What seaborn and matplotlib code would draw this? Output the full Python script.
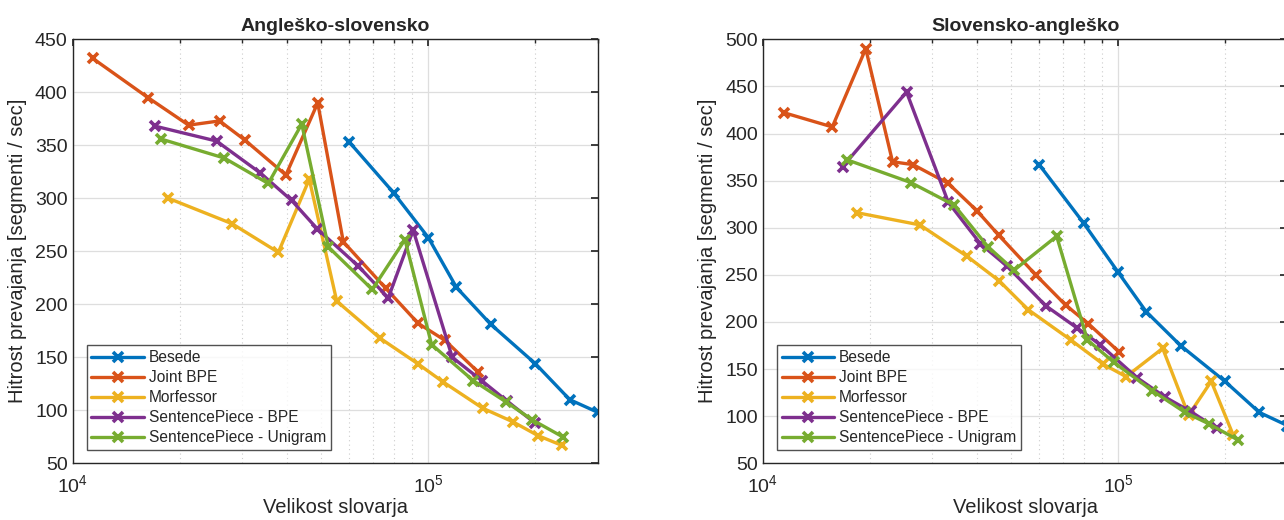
import matplotlib

matplotlib.use("Agg")

import matplotlib.pyplot as plt
import pandas as pd
import seaborn as sns
from matplotlib.ticker import LogLocator, MultipleLocator, NullFormatter

# ---- data ----
series_names = [
    "Besede",
    "Joint BPE",
    "Morfessor",
    "SentencePiece - BPE",
    "SentencePiece - Unigram",
]
colors = ["#0072BD", "#D95319", "#EDB120", "#7E2F8E", "#77AC30"]

# Angleško-slovensko
en_sl_besede_x = [6.0e4, 8.0e4, 1.0e5, 1.2e5, 1.5e5, 2.0e5, 2.5e5, 3.0e5]
en_sl_besede_y = [353, 305, 263, 216, 181, 144, 110, 98]
en_sl_joint_x = [1.14e4, 1.63e4, 2.12e4, 2.59e4, 3.05e4, 3.98e4, 4.89e4, 5.77e4, 7.6e4, 9.37e4, 1.114e5, 1.382e5]
en_sl_joint_y = [432, 395, 369, 373, 355, 322, 390, 259, 215, 182, 166, 136]
en_sl_morf_x = [1.86e4, 2.81e4, 3.79e4, 4.63e4, 5.53e4, 7.32e4, 9.34e4, 1.098e5, 1.422e5, 1.733e5, 2.038e5, 2.371e5]
en_sl_morf_y = [300, 276, 249, 318, 203, 168, 144, 127, 102, 89, 76, 67]
en_sl_spbpe_x = [1.71e4, 2.54e4, 3.37e4, 4.13e4, 4.88e4, 6.36e4, 7.72e4, 9.07e4, 1.168e5, 1.413e5, 1.661e5, 1.995e5]
en_sl_spbpe_y = [368, 354, 324, 298, 271, 236, 206, 270, 150, 128, 109, 88]
en_sl_spuni_x = [1.77e4, 2.67e4, 3.55e4, 4.41e4, 5.24e4, 6.96e4, 8.6e4, 1.022e5, 1.338e5, 1.653e5, 1.96e5, 2.386e5]
en_sl_spuni_y = [356, 338, 314, 370, 254, 214, 261, 162, 128, 108, 91, 75]

# Slovensko-angleško
sl_en_besede_x = [6.0e4, 8.0e4, 1.0e5, 1.2e5, 1.5e5, 2.0e5, 2.5e5, 3.0e5]
sl_en_besede_y = [367, 305, 253, 211, 175, 137, 104, 90]
sl_en_joint_x = [1.15e4, 1.57e4, 1.95e4, 2.32e4, 2.65e4, 3.33e4, 4.01e4, 4.62e4, 5.87e4, 7.12e4, 8.26e4, 1.009e5]
sl_en_joint_y = [422, 407, 490, 370, 367, 347, 318, 292, 250, 218, 198, 168]
sl_en_morf_x = [1.84e4, 2.77e4, 3.75e4, 4.62e4, 5.59e4, 7.36e4, 9.1e4, 1.054e5, 1.336e5, 1.58e5, 1.83e5, 2.11e5]
sl_en_morf_y = [316, 303, 270, 244, 213, 181, 155, 142, 172, 101, 137, 80]
sl_en_spbpe_x = [1.68e4, 2.54e4, 3.33e4, 4.1e4, 4.88e4, 6.27e4, 7.65e4, 8.9e4, 1.13e5, 1.36e5, 1.6e5, 1.9e5]
sl_en_spbpe_y = [365, 444, 327, 283, 259, 217, 194, 176, 141, 120, 105, 87]
sl_en_spuni_x = [1.73e4, 2.61e4, 3.46e4, 4.3e4, 5.1e4, 6.72e4, 8.2e4, 9.75e4, 1.25e5, 1.545e5, 1.8e5, 2.17e5]
sl_en_spuni_y = [372, 348, 324, 280, 255, 291, 181, 157, 127, 104, 92, 75]

en_sl_xs = [en_sl_besede_x, en_sl_joint_x, en_sl_morf_x, en_sl_spbpe_x, en_sl_spuni_x]
en_sl_ys = [en_sl_besede_y, en_sl_joint_y, en_sl_morf_y, en_sl_spbpe_y, en_sl_spuni_y]
sl_en_xs = [sl_en_besede_x, sl_en_joint_x, sl_en_morf_x, sl_en_spbpe_x, sl_en_spuni_x]
sl_en_ys = [sl_en_besede_y, sl_en_joint_y, sl_en_morf_y, sl_en_spbpe_y, sl_en_spuni_y]

sns.set_theme(style="white")
plt.rcParams["font.family"] = ["Liberation Sans", "DejaVu Sans"]
plt.rcParams["mathtext.fontset"] = "custom"
plt.rcParams["mathtext.rm"] = "Liberation Sans"
plt.rcParams["mathtext.it"] = "Liberation Sans:italic"


def build_frame(xs, ys):
    parts = []
    for name, x, y in zip(series_names, xs, ys):
        parts.append(pd.DataFrame({"vocab": x, "speed": y, "method": name}))
    return pd.concat(parts, ignore_index=True)


def draw_panel(ax, df, title, ylim, ystep):
    for name, color in zip(series_names, colors):
        sub = df[df["method"] == name]
        sns.lineplot(
            data=sub, x="vocab", y="speed", ax=ax, color=color, label=name,
            sort=False, linewidth=2.4, marker="x", markersize=7, markeredgewidth=2.6,
            markeredgecolor=color,
        )
    ax.set_xscale("log")
    ax.set_xlim(1e4, 3e5)
    ax.set_ylim(*ylim)
    ax.yaxis.set_major_locator(MultipleLocator(ystep))
    ax.xaxis.set_major_locator(LogLocator(base=10))
    ax.xaxis.set_minor_locator(LogLocator(base=10, subs=range(2, 10)))
    ax.xaxis.set_minor_formatter(NullFormatter())
    ax.grid(True, which="major", color="#dedede", linewidth=0.9)
    ax.grid(True, which="minor", axis="x", color="#cccccc", linestyle=(0, (1, 3)), linewidth=0.8)
    ax.set_axisbelow(True)
    for spine in ax.spines.values():
        spine.set_color("#262626")
        spine.set_linewidth(1.0)
    ax.tick_params(which="both", direction="in", top=True, right=True, colors="#262626",
                   labelcolor="#262626", labelsize=14)
    ax.tick_params(which="major", length=5)
    ax.tick_params(which="minor", length=3)
    ax.tick_params(axis="x", which="major", pad=8)
    ax.set_title(title, fontsize=14, fontweight="bold", pad=6)
    ax.set_xlabel("Velikost slovarja", fontsize=14.5, color="#262626", labelpad=1)
    ax.set_ylabel("Hitrost prevajanja [segmenti / sec]", fontsize=14.5, color="#262626", labelpad=6)
    leg = ax.legend(loc="lower left", bbox_to_anchor=(0.027, 0.031), borderaxespad=0,
                    fontsize=11.2, frameon=True, fancybox=False, edgecolor="#262626",
                    handlelength=3.4, labelspacing=0.33, borderpad=0.3, handletextpad=0.3)
    leg.get_frame().set_linewidth(1.0)


fig = plt.figure(figsize=(12.84, 5.2), dpi=100)
ax_left = fig.add_axes([72.5 / 1284, 56.7 / 520, 525.5 / 1284, 424 / 520])
ax_right = fig.add_axes([762.7 / 1284, 56.7 / 520, 524.8 / 1284, 424 / 520])

draw_panel(ax_left, build_frame(en_sl_xs, en_sl_ys), "Angleško-slovensko", (50, 450), 50)
draw_panel(ax_right, build_frame(sl_en_xs, sl_en_ys), "Slovensko-angleško", (50, 500), 50)

fig.savefig("out.png", dpi=100)
plt.close(fig)
